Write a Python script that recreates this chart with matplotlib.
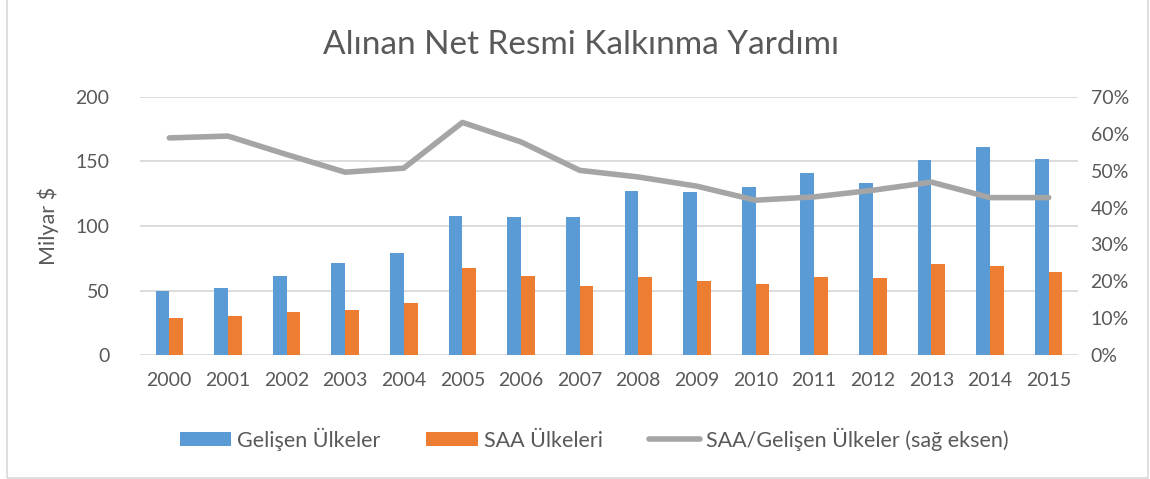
import numpy as np
import matplotlib.pyplot as plt
from matplotlib.patches import Rectangle
from matplotlib.ticker import FuncFormatter

# data
years = ["2000", "2001", "2002", "2003", "2004", "2005", "2006", "2007",
         "2008", "2009", "2010", "2011", "2012", "2013", "2014", "2015"]
gelisen = [49.5, 51.7, 61.5, 71.1, 79.4, 108.1, 106.7, 107.3,
           126.9, 126.1, 130.5, 141.4, 133.1, 150.9, 161.5, 152.2]
saa = [29.0, 30.5, 33.1, 35.2, 40.1, 67.7, 61.3, 53.3,
       60.8, 57.7, 54.8, 60.5, 59.5, 70.5, 68.8, 64.6]
oran = [58.9, 59.4, 54.4, 49.6, 50.7, 63.1, 57.8, 50.1,
        48.3, 45.8, 42.0, 42.9, 44.7, 46.9, 42.7, 42.7]

plt.rcParams['font.family'] = ['Lato', 'DejaVu Sans']
txt = "#595959"
blue = "#5B9BD5"
orange = "#ED7D31"
grey = "#A5A5A5"

fig = plt.figure(figsize=(11.5, 4.79), dpi=100)
ax = fig.add_axes([140/1150, 1-355/479, 938/1150, 258/479])

# chart frame
fig.patches.append(Rectangle((7/1150, 1/479), 1141/1150, 480/479, transform=fig.transFigure,
                             fill=False, edgecolor="#D9D9D9", linewidth=1.2))

x = np.arange(len(years))
w = 0.235
b1 = ax.bar(x - w/2, gelisen, w, color=blue, label="Gelişen Ülkeler", zorder=2)
b2 = ax.bar(x + w/2, saa, w, color=orange, label="SAA Ülkeleri", zorder=2)

ax.set_xlim(-0.5, len(years) - 0.5)
ax.set_ylim(0, 200)
ax.set_yticks([0, 50, 100, 150, 200])
ax.set_xticks(x)
ax.set_xticklabels(years)
ax.grid(axis="y", color="#D9D9D9", linewidth=1.3, zorder=0)
ax.set_axisbelow(True)
for s in ax.spines.values():
    s.set_visible(False)
ax.tick_params(length=0, labelsize=14, colors=txt, pad=22)
ax.tick_params(axis="x", pad=12)
ax.set_ylabel("Milyar $", fontsize=15.5, color=txt, labelpad=12)

ax2 = ax.twinx()
ln, = ax2.plot(x, oran, color=grey, linewidth=4, solid_capstyle="round",
               solid_joinstyle="round", label="SAA/Gelişen Ülkeler (sağ eksen)", zorder=3)
ax2.set_ylim(0, 70)
ax2.set_yticks(np.arange(0, 71, 10))
ax2.yaxis.set_major_formatter(FuncFormatter(lambda v, p: f"{int(v)}%"))
for s in ax2.spines.values():
    s.set_visible(False)
ax2.tick_params(length=0, labelsize=14, colors=txt, pad=9)

fig.text(0.505, 1-45/479, "Alınan Net Resmi Kalkınma Yardımı", ha="center", va="center",
         fontsize=24, color=txt)

leg = fig.legend(handles=[b1, b2, ln], loc="center left", bbox_to_anchor=(169/1150, 1-439/479),
                 ncol=3, frameon=False, fontsize=15.5, labelcolor=txt, borderpad=0,
                 handlelength=2.4, handleheight=0.65, handletextpad=0.25, columnspacing=2.15)

fig.savefig("out.png", dpi=100)
